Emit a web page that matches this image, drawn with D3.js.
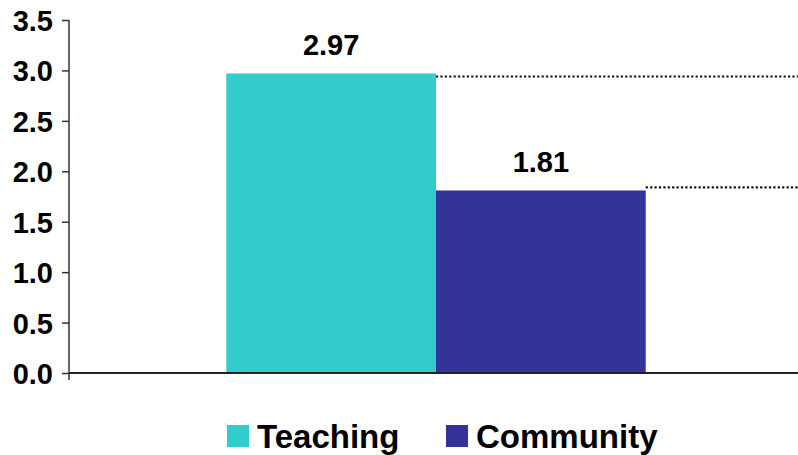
<!DOCTYPE html>
<html>
<head>
<meta charset="utf-8">
<script src="https://cdn.jsdelivr.net/npm/d3@7"></script>
<style>
  html, body { margin: 0; padding: 0; background: #fff; }
  svg { display: block; font-family: "Liberation Sans", Arial, sans-serif; }
</style>
</head>
<body>
<svg id="chart" width="798" height="455"></svg>
<script>
// Chart data
const categories = ["All"];
const seriesNames = ["Teaching", "Community"];
const seriesValues = [2.97, 1.81];
const seriesColors = ["#33CCCC", "#333399"];
const guideValues = [2.94, 1.84];   // dotted reference levels to the right of each bar
const yTicks = [0, 0.5, 1.0, 1.5, 2.0, 2.5, 3.0, 3.5];

const svg = d3.select("#chart");
const W = 798, H = 455;
const plotLeft = 69, plotRight = 803, plotTop = 20, plotBottom = 373;

const y = d3.scaleLinear().domain([0, 3.5]).range([plotBottom, plotTop]);
const x0 = d3.scaleBand().domain(categories).range([plotLeft, plotRight])
  .paddingInner(0).paddingOuter(0.375);
const x1 = d3.scaleBand().domain(seriesNames).range([0, x0.bandwidth()]).padding(0);

const rows = seriesNames.map((name, i) => ({
  name, value: seriesValues[i], color: seriesColors[i], guide: guideValues[i], cat: categories[0]
}));

// Bars
svg.append("g").selectAll("rect").data(rows).join("rect")
  .attr("x", d => x0(d.cat) + x1(d.name))
  .attr("y", d => y(d.value))
  .attr("width", x1.bandwidth())
  .attr("height", d => y(0) - y(d.value))
  .attr("fill", d => d.color);

// Dotted guide lines from each bar's right edge to the chart edge
svg.append("g").selectAll("line").data(rows).join("line")
  .attr("x1", d => x0(d.cat) + x1(d.name) + x1.bandwidth())
  .attr("x2", W)
  .attr("y1", d => y(d.guide))
  .attr("y2", d => y(d.guide))
  .attr("stroke", "#111")
  .attr("stroke-width", 2.2)
  .attr("stroke-dasharray", "2.2,2.2");

// Value labels
svg.append("g").selectAll("text").data(rows).join("text")
  .attr("x", d => x0(d.cat) + x1(d.name) + x1.bandwidth() / 2)
  .attr("y", d => y(d.value) - 18)
  .attr("text-anchor", "middle")
  .attr("font-size", 29)
  .attr("font-weight", "bold")
  .attr("fill", "#000")
  .text(d => d.value.toFixed(2));

// Y axis
const yAxis = svg.append("g")
  .attr("transform", `translate(${plotLeft},0)`)
  .call(d3.axisLeft(y).tickValues(yTicks).tickFormat(d3.format(".1f")).tickSize(7).tickSizeOuter(0));
yAxis.select(".domain").attr("stroke", "#333").attr("stroke-width", 1.5)
  .attr("d", `M0,${plotTop}V${plotBottom + 7}`);
yAxis.selectAll(".tick line").attr("stroke", "#333").attr("stroke-width", 1.5);
yAxis.selectAll(".tick text")
  .attr("x", -16).attr("dy", "0.36em")
  .attr("text-anchor", "end")
  .attr("font-size", 29)
  .attr("font-weight", "bold")
  .attr("font-family", "'Liberation Sans', Arial, sans-serif")
  .attr("fill", "#000");

// X axis baseline
svg.append("line")
  .attr("x1", plotLeft).attr("x2", W)
  .attr("y1", y(0)).attr("y2", y(0))
  .attr("stroke", "#222").attr("stroke-width", 2);

// Legend
const legendPos = [227, 446];
const legend = svg.append("g").selectAll("g").data(rows).join("g")
  .attr("transform", (d, i) => `translate(${legendPos[i]},425)`);
legend.append("rect").attr("width", 22).attr("height", 22).attr("fill", d => d.color);
legend.append("text")
  .attr("x", 30).attr("y", 23)
  .attr("font-size", 33).attr("font-weight", "bold").attr("fill", "#000")
  .text(d => d.name);
</script>
</body>
</html>
